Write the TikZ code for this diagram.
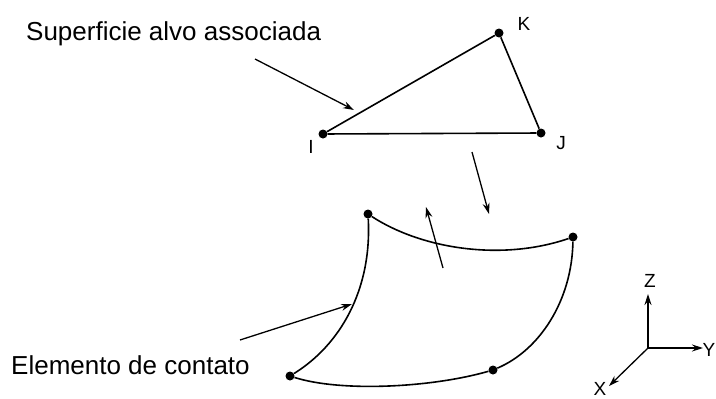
\documentclass[tikz,border=0pt]{standalone}
\usepackage{fontspec}
\setmainfont{Liberation Sans}
\usetikzlibrary{arrows.meta}
\begin{document}
\begin{tikzpicture}[x=1pt,y=-1pt,
  edge/.style={line width=1.6pt},
  pointer/.style={line width=1.3pt,-{Stealth[length=11pt,width=7pt]}},
  vertex/.style={circle,fill=black,inner sep=0pt,minimum size=9pt},
  tag/.style={font=\fontsize{19}{19}\selectfont,inner sep=0pt},
  caption/.style={font=\fontsize{26}{26}\selectfont,inner sep=0pt,anchor=west}]
\useasboundingbox (0,0) rectangle (716,399);
% target triangle
\node[vertex] (I) at (323,134) {};
\node[vertex] (K) at (499,33) {};
\node[vertex] (J) at (541,133) {};
\draw[edge] (I) -- (K) -- (J) -- (I);
\node[tag] (lI) at (311,147) {I};
\node[tag] (lK) at (524,24) {K};
\node[tag] (lJ) at (561,143) {J};
% contact element
\node[vertex] (A) at (368,214) {};
\node[vertex] (B) at (573,237) {};
\node[vertex] (C) at (290,376) {};
\node[vertex] (D) at (493,370) {};
\draw[edge] (A) .. controls (420,248) and (500,262) .. (B);
\draw[edge] (A) .. controls (372,290) and (340,345) .. (C);
\draw[edge] (C) .. controls (340,392) and (430,388) .. (D);
\draw[edge] (B) .. controls (572,300) and (540,350) .. (D);
% captions
\node[caption] (sup) at (26,34) {Superficie alvo associada};
\node[caption] (ele) at (11,365) {Elemento de contato};
\coordinate (supA) at (255,59);
\coordinate (supB) at (354,110);
\coordinate (eleA) at (240,340);
\coordinate (eleB) at (352,304);
\draw[pointer] (supA) -- (supB);
\draw[pointer] (eleA) -- (eleB);
% normals
\coordinate (dnA) at (472,152);
\coordinate (dnB) at (489,214);
\coordinate (upA) at (443,268);
\coordinate (upB) at (426,207);
\draw[pointer] (dnA) -- (dnB);
\draw[pointer] (upA) -- (upB);
% global axes
\coordinate (O) at (648,348);
\coordinate (Zt) at (648,294);
\coordinate (Yt) at (703,348);
\coordinate (Xt) at (609,386);
\draw[pointer] (O) -- (Zt);
\draw[pointer] (O) -- (Yt);
\draw[pointer] (O) -- (Xt);
\node[tag] (lZ) at (650,281) {Z};
\node[tag] (lY) at (709,350) {Y};
\node[tag] (lX) at (600,389) {X};
\end{tikzpicture}
\end{document}
